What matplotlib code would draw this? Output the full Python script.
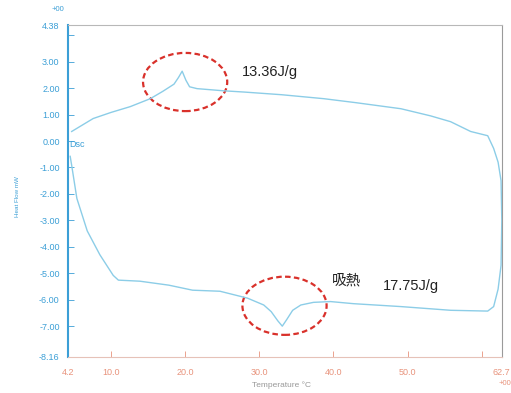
import matplotlib.pyplot as plt
from matplotlib.patches import Ellipse

plt.rcParams['font.family'] = ['Liberation Sans', 'Noto Sans CJK JP', 'DejaVu Sans']

# heating run (left -> right along the bottom), then back up the right edge
heat_temp = [4.5, 4.7, 5.4, 6.8, 8.5, 10.3, 11.0, 13.9, 17.8, 21.0, 24.7, 28.4,
             30.6, 31.6, 32.5, 33.1, 33.7, 34.5, 35.6, 37.3, 39.6, 42.7, 49.1,
             55.8, 60.8, 61.6, 62.2, 62.6, 62.7, 62.6, 62.2, 61.6]
heat_flow = [-0.58, -0.92, -2.17, -3.4, -4.3, -5.08, -5.26, -5.3, -5.45, -5.64,
             -5.68, -5.94, -6.2, -6.45, -6.8, -7.0, -6.75, -6.4, -6.2, -6.1,
             -6.07, -6.15, -6.26, -6.4, -6.43, -6.26, -5.6, -4.7, -3.0, -1.5,
             -0.8, -0.28]

# cooling run (right -> left along the top)
cool_temp = [61.6, 60.8, 58.5, 55.8, 53.1, 49.1, 43.0, 38.7, 33.0, 28.0, 25.1,
             21.6, 20.6, 20.1, 19.6, 19.1, 18.5, 17.0, 15.3, 12.6, 10.0, 7.6, 4.7]
cool_flow = [-0.28, 0.2, 0.36, 0.73, 0.95, 1.22, 1.45, 1.6, 1.75, 1.85, 1.9,
             1.98, 2.05, 2.3, 2.64, 2.4, 2.15, 1.88, 1.6, 1.3, 1.08, 0.85, 0.36]

ytick_vals = [-8.16, -7, -6, -5, -4, -3, -2, -1, 0, 1, 2, 3, 4.38]
ytick_labels = ["-8.16", "-7.00", "-6.00", "-5.00", "-4.00", "-3.00", "-2.00",
                "-1.00", "0.00", "1.00", "2.00", "3.00", "4.38"]
xtick_vals = [4.2, 10, 20, 30, 40, 50, 60, 62.7]
xtick_labels = ["4.2", "10.0", "20.0", "30.0", "40.0", "50.0", "", "62.7"]

blue = "#3c9fd6"
curve = "#8ccde7"
salmon = "#e8937c"

fig = plt.figure(figsize=(5.11, 3.93), dpi=100)
ax = fig.add_axes([0.133, 0.092, 0.849, 0.844])

ax.plot(heat_temp + cool_temp, heat_flow + cool_flow, color=curve, linewidth=1.0)

ax.set_xlim(4.2, 62.7)
ax.set_ylim(-8.16, 4.38)

ax.set_yticks(ytick_vals)
ax.set_yticklabels(ytick_labels)
ax.set_yticks([4], minor=True)
ax.set_xticks(xtick_vals)
ax.set_xticklabels(xtick_labels)

ax.tick_params(axis="y", which="both", direction="in", length=4, width=0.6,
               color=blue, labelcolor=blue, labelsize=6.5, pad=6)
ax.tick_params(axis="x", direction="in", length=4, width=0.6,
               color=salmon, labelcolor=salmon, labelsize=6.5, pad=8)

ax.spines["left"].set_color(blue)
ax.spines["left"].set_linewidth(1.5)
ax.spines["bottom"].set_color("#e6c2b8")
ax.spines["bottom"].set_linewidth(0.8)
ax.spines["top"].set_color("#b8b8b8")
ax.spines["right"].set_color("#9a9a9a")

# dashed circles round the two peaks
for cx, cy in [(20.0, 2.23), (33.4, -6.23)]:
    ax.add_patch(Ellipse((cx, cy), 11.35, 2.2, fill=False, edgecolor="#d9312b",
                         linestyle=(0, (2.5, 1.5)), linewidth=1.6))

ax.text(27.6, 2.6, "13.36J/g", fontsize=10.5, color="#222222", va="center")
ax.text(39.8, -5.26, "吸熱", fontsize=10.5, color="#222222", va="center")
ax.text(46.6, -5.5, "17.75J/g", fontsize=10.5, color="#222222", va="center")

ax.text(4.4, -0.15, "Dsc", fontsize=6.5, color=blue, va="center")
fig.text(0.113, 0.975, "+00", fontsize=5.5, color=blue, ha="center", va="center")
fig.text(0.988, 0.025, "+00", fontsize=5.5, color=salmon, ha="center", va="center")
fig.text(0.035, 0.5, "Heat Flow mW", fontsize=4.5, color=blue, rotation=90,
         ha="center", va="center")
fig.text(0.55, 0.02, "Temperature \u00b0C", fontsize=6, color="#999999",
         ha="center", va="center")

fig.savefig("out.png", dpi=100)
